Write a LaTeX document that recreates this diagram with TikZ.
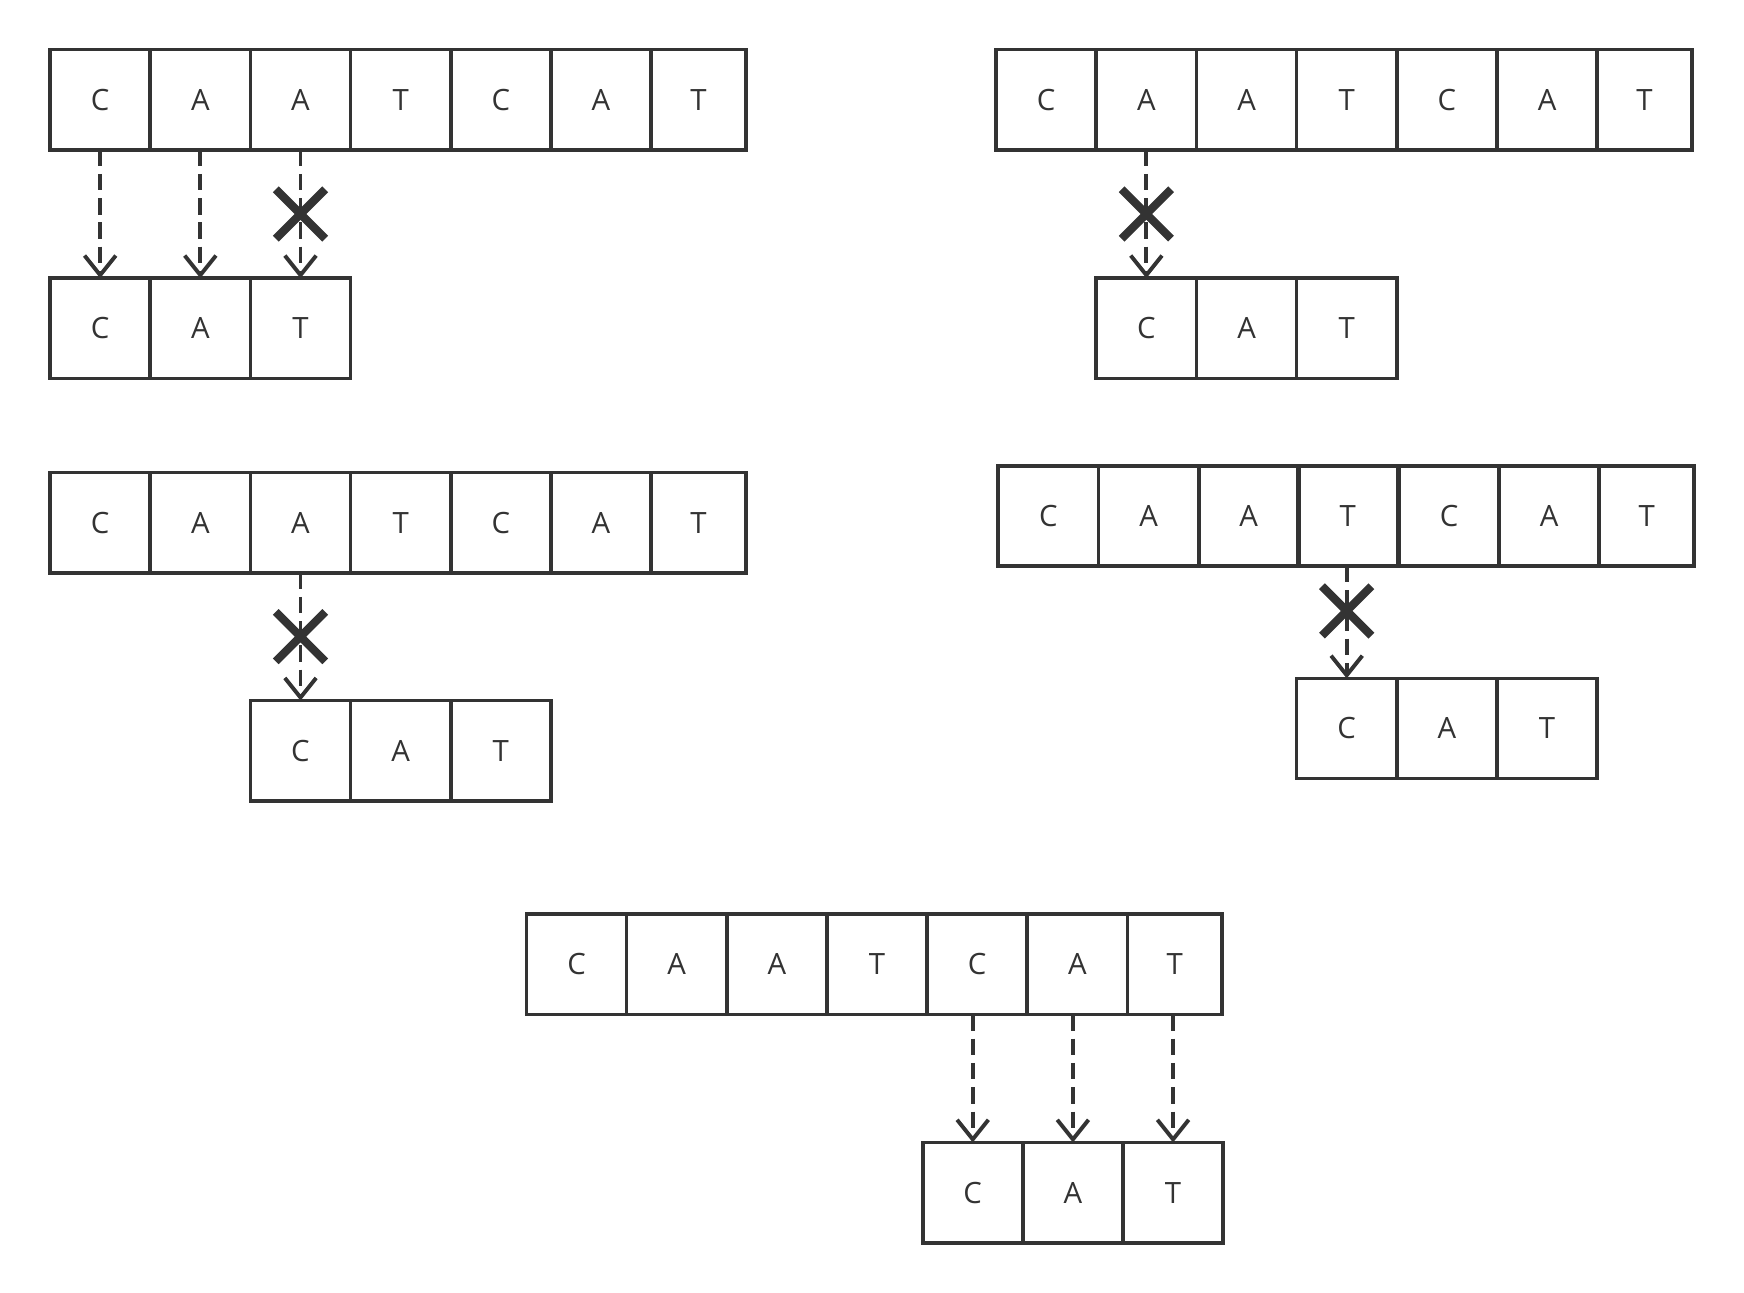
\documentclass[tikz,border=0pt]{standalone}
\usepackage{fontspec}
\setmainfont{Open Sans}
\usetikzlibrary{arrows.meta}
\usetikzlibrary{shapes.misc}
\definecolor{ink}{HTML}{333333}

\begin{document}
\begin{tikzpicture}[x=.1mm, y=-.1mm,
                    cell/.style={draw=ink, line width=.95pt, minimum width=9mm, minimum height=9mm,
                                 inner sep=0pt, outer sep=0pt, text=ink, font=\fontsize{7.5}{9}\selectfont},
                    endcell/.style={cell, minimum width=8.5mm},
                    arr/.style={draw=ink, line width=1pt, dash pattern=on 4.2pt off 2pt,
                                -{Straight Barb[length=5pt, width=8pt]}},
                    nope/.style={cross out, draw=ink, solid, line width=2.1pt, minimum size=3.7mm, inner sep=0pt}]
      \useasboundingbox (0,0) rectangle (1567,1161);

      % top left
      \node[cell] (p1a1) at (90,89.5) {C};
      \node[cell] (p1a2) at (180,89.5) {A};
      \node[cell] (p1a3) at (270,89.5) {A};
      \node[cell] (p1a4) at (360,89.5) {T};
      \node[cell] (p1a5) at (450,89.5) {C};
      \node[cell] (p1a6) at (540,89.5) {A};
      \node[endcell] (p1a7) at (627.5,89.5) {T};
      \node[cell] (p1b1) at (90,295) {C};
      \node[cell] (p1b2) at (180,295) {A};
      \node[cell] (p1b3) at (270,295) {T};

      \draw[arr] (p1a1.south) -- (p1b1.north);
      \draw[arr] (p1a2.south) -- (p1b2.north);
      \draw[arr] (p1a3.south) -- node[nope] (p1x) {} (p1b3.north);

      % top right
      \node[cell] (p2a1) at (940,89.5) {C};
      \node[cell] (p2a2) at (1030,89.5) {A};
      \node[cell] (p2a3) at (1120,89.5) {A};
      \node[cell] (p2a4) at (1210,89.5) {T};
      \node[cell] (p2a5) at (1300,89.5) {C};
      \node[cell] (p2a6) at (1390,89.5) {A};
      \node[endcell] (p2a7) at (1477.5,89.5) {T};
      \node[cell] (p2b1) at (1030,295) {C};
      \node[cell] (p2b2) at (1120,295) {A};
      \node[cell] (p2b3) at (1210,295) {T};

      \draw[arr] (p2a2.south) -- node[nope] (p2x) {} (p2b1.north);

      % middle left
      \node[cell] (p3a1) at (90,469.5) {C};
      \node[cell] (p3a2) at (180,469.5) {A};
      \node[cell] (p3a3) at (270,469.5) {A};
      \node[cell] (p3a4) at (360,469.5) {T};
      \node[cell] (p3a5) at (450,469.5) {C};
      \node[cell] (p3a6) at (540,469.5) {A};
      \node[endcell] (p3a7) at (627.5,469.5) {T};
      \node[cell] (p3b1) at (270,674.5) {C};
      \node[cell] (p3b2) at (360,674.5) {A};
      \node[cell] (p3b3) at (450,674.5) {T};

      \draw[arr] (p3a3.south) -- node[nope] (p3x) {} (p3b1.north);

      % middle right
      \node[cell] (p4a1) at (942,463.5) {C};
      \node[cell] (p4a2) at (1032,463.5) {A};
      \node[cell] (p4a3) at (1122,463.5) {A};
      \node[cell] (p4a4) at (1211,463.5) {T};
      \node[cell] (p4a5) at (1302,463.5) {C};
      \node[cell] (p4a6) at (1392,463.5) {A};
      \node[endcell] (p4a7) at (1479.5,463.5) {T};
      \node[cell] (p4b1) at (1210,654.5) {C};
      \node[cell] (p4b2) at (1300,654.5) {A};
      \node[cell] (p4b3) at (1390,654.5) {T};

      \draw[arr] (p4a4.south -| p4b1) -- node[nope, pos=.4] (p4x) {} (p4b1.north);

      % bottom
      \node[cell] (p5a1) at (518,866.5) {C};
      \node[cell] (p5a2) at (608,866.5) {A};
      \node[cell] (p5a3) at (698,866.5) {A};
      \node[cell] (p5a4) at (788,866.5) {T};
      \node[cell] (p5a5) at (878,866.5) {C};
      \node[cell] (p5a6) at (968,866.5) {A};
      \node[endcell] (p5a7) at (1055.5,866.5) {T};
      \node[cell] (p5b1) at (874,1071.5) {C};
      \node[cell] (p5b2) at (964,1071.5) {A};
      \node[cell] (p5b3) at (1054,1071.5) {T};

      \draw[arr] (p5a5.south -| p5b1) -- (p5b1.north);
      \draw[arr] (p5a6.south -| p5b2) -- (p5b2.north);
      \draw[arr] (p5a7.south -| p5b3) -- (p5b3.north);
\end{tikzpicture}
\end{document}
